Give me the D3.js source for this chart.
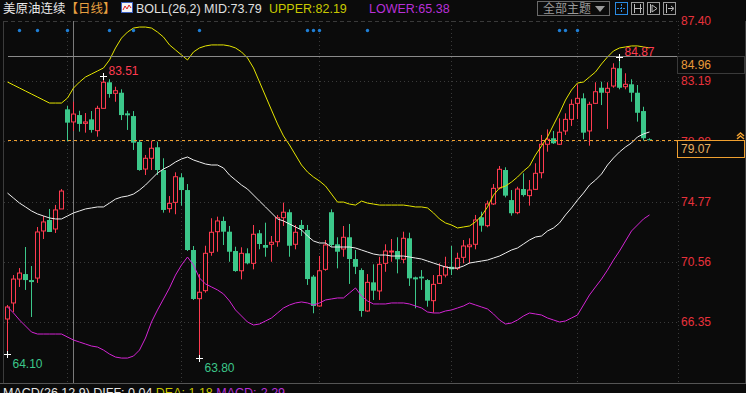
<!DOCTYPE html>
<html><head><meta charset="utf-8">
<script src="https://cdn.jsdelivr.net/npm/d3@7"></script>
<style>
body{margin:0;background:#0b0b0b;overflow:hidden}
svg{display:block}
text{font-family:"Liberation Sans",Arial,"Noto Sans CJK SC",sans-serif}
</style></head>
<body><svg id="c" width="746" height="393"></svg>
<script>
// ---- data ----
const openP  = [66.56,67.68,69.35,69.70,69.28,69.42,72.71,73.48,72.85,74.25,81.21,80.33,80.81,80.23,80.51,79.72,81.28,83.10,82.33,82.37,80.93,80.74,78.93,77.04,77.79,78.56,76.97,74.27,74.71,76.46,75.57,71.38,67.98,68.54,71.22,72.66,73.41,72.66,71.31,69.93,71.15,70.45,72.55,71.73,71.78,71.96,73.64,74.02,71.78,73.13,72.78,69.52,67.47,70.03,74.02,71.78,71.45,72.27,70.75,69.98,67.12,69.12,68.52,70.45,71.24,71.31,70.73,72.20,69.47,69.52,69.28,67.84,69.05,69.63,70.21,70.10,70.87,71.61,71.78,73.67,73.08,74.60,75.71,76.97,74.87,73.99,75.64,75.18,75.62,76.78,78.77,79.19,78.77,79.70,80.51,81.63,81.98,79.70,81.63,82.72,82.40,82.84,84.08,82.79,82.96,82.37,81.09,79.12];
const highP  = [67.54,69.63,70.12,71.59,70.26,72.99,73.76,74.25,74.53,75.64,81.44,81.74,81.11,80.95,81.09,81.46,83.51,83.31,82.79,82.61,81.11,81.09,79.07,78.02,79.02,78.95,77.79,75.15,76.81,76.74,75.99,71.66,69.70,71.68,73.60,73.71,73.71,73.06,71.61,71.57,71.50,73.13,72.78,73.29,72.36,73.83,74.69,74.22,73.13,73.48,73.13,69.63,70.96,72.08,74.22,72.27,73.06,73.20,71.38,70.10,69.70,70.38,70.91,71.78,72.15,72.27,72.66,72.59,69.52,69.98,69.35,69.63,70.45,70.91,71.66,71.19,72.08,72.20,73.83,74.06,74.83,75.99,77.25,77.16,75.57,75.80,76.74,76.27,77.44,79.42,79.81,79.70,80.58,80.93,81.91,82.96,82.33,81.74,83.10,83.14,83.10,84.43,84.87,83.73,83.31,82.91,81.39,79.19];
const lowP   = [64.10,67.05,68.80,68.59,66.70,69.08,72.15,72.64,72.57,74.25,78.98,79.70,79.65,79.58,79.58,79.30,81.28,82.02,81.74,80.46,79.77,78.37,76.92,76.62,76.97,76.62,73.99,73.99,73.88,74.48,71.31,67.89,63.80,68.40,70.98,71.26,71.73,70.56,69.86,69.33,70.38,70.03,71.43,70.91,70.56,71.61,73.06,70.91,71.43,72.36,68.94,66.96,67.42,69.93,71.61,70.10,70.91,69.01,69.70,66.72,67.07,67.89,67.89,69.86,70.56,69.75,70.45,68.87,67.31,68.59,67.42,67.00,69.01,69.47,69.63,69.98,70.45,70.45,71.43,72.66,72.97,74.53,75.62,75.06,73.78,73.88,75.11,74.48,75.57,76.39,78.25,78.79,78.72,79.42,80.05,80.53,79.12,78.67,81.58,81.51,79.84,82.72,82.61,82.61,81.74,80.35,79.02,79.05];
const closeP = [67.40,69.35,69.77,69.28,69.14,72.64,73.34,72.64,74.18,75.50,80.28,80.88,80.19,80.33,79.77,81.28,83.10,82.28,82.51,80.81,80.79,78.88,76.97,77.79,78.49,76.97,74.18,74.64,76.50,75.57,71.38,67.96,68.43,71.15,72.62,73.41,72.66,71.26,69.91,71.15,70.45,72.48,71.80,71.54,71.92,73.64,74.02,71.68,72.62,72.85,69.35,67.47,69.93,71.73,71.73,71.26,72.27,70.75,70.21,67.12,69.12,68.54,70.38,71.31,71.31,70.73,72.20,69.40,69.33,69.40,67.84,68.98,69.59,70.21,70.03,70.80,71.66,71.73,73.48,73.08,74.60,75.69,77.02,75.18,73.95,75.64,75.22,75.57,76.74,78.77,79.12,78.84,79.61,80.51,81.56,81.98,79.58,81.56,82.44,82.37,82.68,84.08,82.72,82.96,82.37,80.97,79.19,79.07];
const bollUpper = [83.12,82.91,82.70,82.49,82.28,82.07,81.86,81.65,81.65,81.65,82.00,82.70,83.12,83.47,83.68,83.89,84.10,84.66,85.50,86.19,86.61,86.89,86.96,86.96,86.89,86.61,86.26,85.71,85.36,85.01,84.66,85.22,85.50,85.64,85.71,85.71,85.71,85.64,85.50,85.22,84.80,84.10,83.12,82.14,81.16,80.19,79.35,78.72,78.02,77.32,76.83,76.48,76.20,75.85,75.29,74.73,74.73,74.59,74.52,74.80,74.66,74.59,74.52,74.52,74.52,74.52,74.52,74.46,74.39,74.39,74.32,73.97,73.55,73.27,73.13,72.92,72.99,73.06,73.34,73.76,74.39,75.22,75.71,75.85,76.13,76.48,76.90,77.25,78.02,78.65,79.28,80.12,80.95,81.86,82.56,83.05,83.12,83.47,83.82,84.38,84.87,85.29,85.50,85.57,85.64,85.64,85.57,85.50];
const bollMid = [75.36,75.01,74.66,74.39,74.11,73.90,73.76,73.62,73.55,73.55,73.76,73.97,74.11,74.25,74.32,74.39,74.39,74.66,74.94,75.08,75.15,75.29,75.57,75.92,76.34,76.76,77.04,77.25,77.53,77.74,77.88,77.67,77.53,77.39,77.32,77.32,77.11,76.62,76.27,75.92,75.64,75.22,74.80,74.39,73.97,73.55,73.41,73.20,72.99,72.78,72.36,72.01,71.87,71.87,71.59,71.59,71.59,71.59,71.52,71.38,71.24,71.10,71.03,71.03,70.96,70.96,70.96,70.89,70.82,70.75,70.61,70.47,70.33,70.19,70.12,70.12,70.26,70.47,70.54,70.61,70.68,70.82,70.96,71.17,71.38,71.52,71.80,72.08,72.29,72.36,72.71,72.92,73.27,73.83,74.32,74.87,75.36,75.92,76.27,76.69,77.32,77.81,78.23,78.58,78.86,79.28,79.49,79.63];
const bollLower = [67.40,66.98,66.49,66.07,65.65,65.51,65.51,65.51,65.51,65.51,65.30,65.09,64.95,64.81,64.67,64.60,64.39,64.11,63.90,63.83,63.83,63.97,64.39,65.23,66.35,67.19,67.96,68.73,69.63,70.33,70.89,70.33,69.42,69.01,68.80,68.59,68.31,67.82,67.19,66.77,66.35,66.14,66.21,66.42,66.63,66.98,67.33,67.54,67.68,67.75,67.68,67.54,67.68,67.89,67.96,68.03,68.03,68.38,68.73,68.17,67.82,67.61,67.61,67.61,67.68,67.68,67.68,67.61,67.47,67.33,67.05,66.98,66.98,67.12,67.19,67.33,67.47,67.68,67.54,67.40,67.26,66.91,66.49,66.21,66.28,66.49,66.77,66.98,66.91,66.84,66.63,66.49,66.35,66.42,66.63,66.84,67.54,68.24,68.80,69.35,69.98,70.68,71.31,72.01,72.71,73.13,73.55,73.83];
const priceTicks = [87.40, 83.19, 78.98, 74.77, 70.56, 66.35];
const eventIdx = [2,5,10,17,21,32,50,51,52,60,92,93,95];
const gridIdx = [10,29,52,74,95];
const crossIdx = 11;
const crossPrice = 84.96;
const lastPrice = 79.07;

// ---- chart ----
const W = 746, H = 393;
const plotL = 4, plotR = 677, plotT = 21, plotB = 383;
const svg = d3.select('#c');
svg.append('rect').attr('width', W).attr('height', H).attr('fill', '#0b0b0b');

const n = closeP.length;
const x = d3.scaleLinear().domain([0, n - 1]).range([7.5, 7.5 + 6 * (n - 1)]);
const y = d3.scaleLinear().domain([66.35, 83.19]).range([322, 81]);

const RED = '#ff3b50', GREEN = '#3cc78a';

// grid
const g = svg.append('g');
g.selectAll('line.h').data(priceTicks).join('line')
  .attr('x1', plotL).attr('x2', plotR)
  .attr('y1', d => Math.round(y(d)) + 0.5).attr('y2', d => Math.round(y(d)) + 0.5)
  .attr('stroke', '#3a3a3a').attr('stroke-dasharray', d => d === 87.40 ? '4,3' : '1,3');
g.selectAll('line.v').data(gridIdx).join('line')
  .attr('x1', d => x(d)).attr('x2', d => x(d))
  .attr('y1', plotT).attr('y2', plotB)
  .attr('stroke', '#3a3a3a').attr('stroke-dasharray', '1,3');
// borders
svg.append('line').attr('x1', 3.5).attr('x2', 3.5).attr('y1', plotT).attr('y2', plotB).attr('stroke', '#3c3c3c');
svg.append('line').attr('x1', 678.5).attr('x2', 678.5).attr('y1', plotT).attr('y2', plotB).attr('stroke', '#3a3a3a').attr('stroke-dasharray', '1,3');
svg.append('line').attr('x1', 745.5).attr('x2', 745.5).attr('y1', plotT).attr('y2', plotB).attr('stroke', '#3c3c3c');
svg.append('line').attr('x1', 0).attr('x2', W).attr('y1', plotB + 0.5).attr('y2', plotB + 0.5).attr('stroke', '#555');

// crosshair
svg.append('line').attr('x1', x(crossIdx)).attr('x2', x(crossIdx)).attr('y1', plotT).attr('y2', plotB).attr('stroke', '#7a7a7a');

// candles
const idx = d3.range(n);
const cg = svg.append('g');
cg.selectAll('line.w').data(idx).join('line')
  .attr('x1', i => x(i)).attr('x2', i => x(i))
  .attr('y1', i => y(highP[i])).attr('y2', i => y(lowP[i]))
  .attr('stroke', i => closeP[i] >= openP[i] ? RED : GREEN);
cg.selectAll('rect.b').data(idx).join('rect')
  .attr('x', i => closeP[i] >= openP[i] ? x(i) - 2 : x(i) - 2.5)
  .attr('width', i => closeP[i] >= openP[i] ? 4 : 5)
  .attr('y', i => y(Math.max(openP[i], closeP[i])))
  .attr('height', i => Math.max(1, Math.abs(y(openP[i]) - y(closeP[i]))))
  .attr('fill', i => closeP[i] >= openP[i] ? '#0b0b0b' : GREEN)
  .attr('stroke', i => closeP[i] >= openP[i] ? RED : 'none');

// bollinger lines
const line = arr => d3.line().x((d, i) => x(i)).y(d => y(d))(arr);
svg.append('path').attr('d', line(bollUpper)).attr('fill', 'none').attr('stroke', '#e6e600').attr('stroke-width', 1);
svg.append('path').attr('d', line(bollMid)).attr('fill', 'none').attr('stroke', '#eeeeee').attr('stroke-width', 1);
svg.append('path').attr('d', line(bollLower)).attr('fill', 'none').attr('stroke', '#d424d4').attr('stroke-width', 1);

// crosshair horizontal & last price line
svg.append('line').attr('x1', plotL + 4).attr('x2', plotR).attr('y1', Math.round(y(crossPrice)) + 0.5).attr('y2', Math.round(y(crossPrice)) + 0.5).attr('stroke', '#8a8a8a');
svg.append('line').attr('x1', plotL + 4).attr('x2', plotR).attr('y1', Math.round(y(lastPrice)) + 0.5).attr('y2', Math.round(y(lastPrice)) + 0.5).attr('stroke', '#f0a030').attr('stroke-dasharray', '3,3');

// event dots
svg.selectAll('circle.e').data(eventIdx).join('circle')
  .attr('cx', i => x(i)).attr('cy', 30.5).attr('r', 1.7).attr('fill', '#1f7fd6');

// extreme labels
function mark(i, v, isHigh, color) {
  const cx = x(i), cy = Math.round(y(v)) + 0.5;
  svg.append('line').attr('x1', cx - 3.5).attr('x2', cx + 3.5).attr('y1', cy).attr('y2', cy).attr('stroke', '#fff');
  svg.append('line').attr('x1', cx).attr('x2', cx).attr('y1', cy - 3.5).attr('y2', cy + 3.5).attr('stroke', '#fff');
  svg.append('text').attr('x', cx + 5).attr('y', isHigh ? cy - 2 : cy + 13)
    .attr('font-size', 12).attr('fill', color).text(v.toFixed(2));
}
const hi1 = d3.maxIndex(highP.slice(0, 60));
mark(hi1, highP[hi1], true, '#ff3b50');
const hi2 = d3.maxIndex(highP);
mark(hi2, highP[hi2], true, '#ff3b50');
const lo1 = 0;
mark(lo1, lowP[lo1], false, '#3cc78a');
const lo2 = d3.minIndex(lowP);
mark(lo2, lowP[lo2], false, '#3cc78a');

// right axis
const axis = d3.axisRight(y).tickValues(priceTicks).tickFormat(d3.format('.2f')).tickSize(0).tickPadding(4);
const ag = svg.append('g').attr('transform', `translate(${plotR},0)`).call(axis);
ag.select('.domain').remove();
ag.selectAll('text').attr('fill', '#e8323c').attr('font-size', 12).style('font-family', '"Liberation Sans",Arial,sans-serif');

// value boxes
const cy1 = Math.round(y(crossPrice));
svg.append('rect').attr('x', 677.5).attr('y', cy1 + 0.5).attr('width', 67).attr('height', 17).attr('fill', '#0b0b0b').attr('stroke', '#3a3a3a');
svg.append('text').attr('x', 681).attr('y', cy1 + 13).attr('font-size', 12).attr('fill', '#e89a3a').text(crossPrice.toFixed(2));
const cy2 = Math.round(y(lastPrice));
svg.append('rect').attr('x', 677.5).attr('y', cy2 + 0.5).attr('width', 67).attr('height', 17).attr('fill', '#0b0b0b').attr('stroke', '#f0a030');
svg.append('text').attr('x', 681).attr('y', cy2 + 13).attr('font-size', 12).attr('fill', '#e8b060').text(lastPrice.toFixed(2));
svg.append('path').attr('d', `M737,${cy2 - 1} L740.5,${cy2 - 4} L744,${cy2 - 1} M737,${cy2 - 4} L740.5,${cy2 - 7} L744,${cy2 - 4}`)
  .attr('fill', 'none').attr('stroke', '#f0a030').attr('stroke-width', 1.5);

// header
const hd = svg.append('text').attr('x', 3).attr('y', 13).attr('font-size', 12.5);
hd.append('tspan').attr('fill', '#e8e8e8').text('美原油连续');
hd.append('tspan').attr('fill', '#e8a040').text('【日线】');
// icon
svg.append('rect').attr('x', 121.5).attr('y', 2.5).attr('width', 11).attr('height', 10).attr('fill', '#f4f4f4').attr('stroke', '#3a5fc0');
svg.append('polyline').attr('points', '123,10 125,6 127,9 129,5 131,8').attr('fill', 'none').attr('stroke', '#e02020');
svg.append('text').attr('x', 136).attr('y', 13).attr('font-size', 12.5).attr('fill', '#e0e0e0').text('BOLL(26,2) MID:73.79');
svg.append('text').attr('x', 269).attr('y', 13).attr('font-size', 12.5).attr('fill', '#c8c800').text('UPPER:82.19');
svg.append('text').attr('x', 369).attr('y', 13).attr('font-size', 12.5).attr('fill', '#b830d8').text('LOWER:65.38');

// top-right controls
svg.append('rect').attr('x', 537.5).attr('y', 1.5).attr('width', 72).attr('height', 14).attr('fill', 'none').attr('stroke', '#6a6a6a');
svg.append('text').attr('x', 543).attr('y', 13).attr('font-size', 12).attr('fill', '#9a9a9a').text('全部主题');
svg.append('path').attr('d', 'M595,6 L605,6 L600,12 Z').attr('fill', '#9a9a9a');
const btnX = [615, 631, 647, 663];
btnX.forEach((bx, k) => {
  svg.append('rect').attr('x', bx + 0.5).attr('y', 2.5).attr('width', 12).attr('height', 12).attr('fill', 'none')
    .attr('stroke', k === 0 ? '#2a8ae0' : '#9a9a9a');
  if (k === 0) {
    svg.append('path').attr('d', `M${bx + 6.5},4 V13 M${bx + 2},8.5 H${bx + 11}`).attr('stroke', '#2a8ae0').attr('stroke-dasharray', '2,1');
  } else if (k === 1) {
    svg.append('path').attr('d', `M${bx + 3.5},4 V13 M${bx + 9.5},4 V13 M${bx + 4},8.5 H${bx + 11}`).attr('stroke', '#bbb');
  } else if (k === 2) {
    svg.append('path').attr('d', `M${bx + 3.5},4 V13 M${bx + 5},5 L${bx + 10},8.5 L${bx + 5},12 Z`).attr('stroke', '#bbb').attr('fill', 'none');
  } else {
    svg.append('path').attr('d', `M${bx + 3.5},4 V13 M${bx + 5},8.5 H${bx + 10} M${bx + 8},6 L${bx + 11},8.5 L${bx + 8},11`).attr('stroke', '#bbb').attr('fill', 'none');
  }
});

// bottom MACD header (cut off as in the reference)
const mh = svg.append('text').attr('x', 3).attr('y', 397).attr('font-size', 12.5);
mh.append('tspan').attr('fill', '#e8e8e8').text('MACD(26,12,9) DIFF: 0.04 ');
mh.append('tspan').attr('fill', '#c8c800').text(' DEA: 1.18 ');
mh.append('tspan').attr('fill', '#b830d8').text(' MACD:-2.29');
</script>
</body></html>
